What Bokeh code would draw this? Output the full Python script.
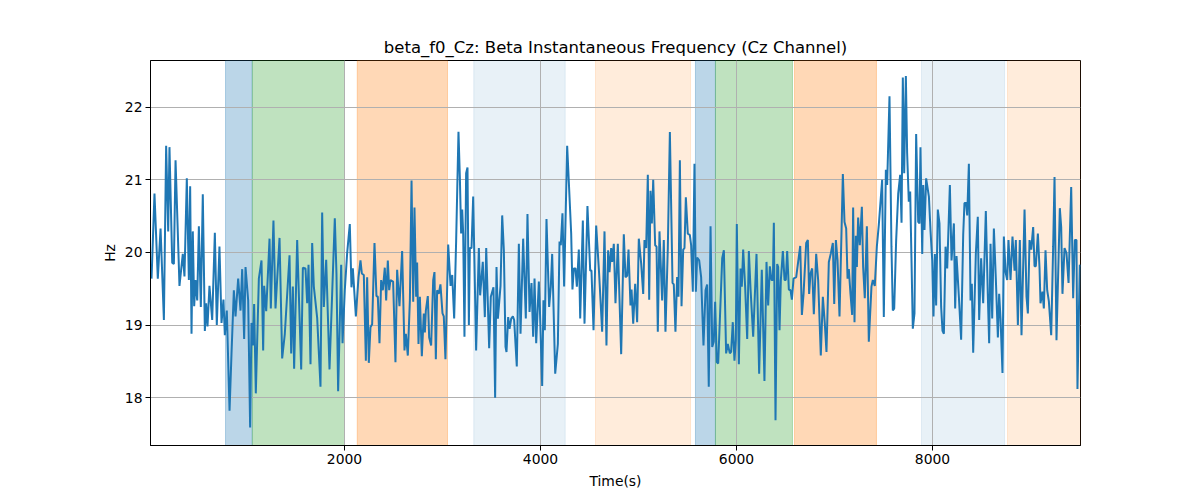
from bokeh.plotting import figure
from bokeh.models import Range1d, BoxAnnotation, FixedTicker
from bokeh.embed import file_html
from bokeh.resources import INLINE

# beta_f0 on the Cz channel, time in seconds
time_s = [
    31, 61, 95, 123, 157, 180, 201, 214, 242, 259, 276, 316, 350, 367, 391, 412, 425, 439, 452, 466,
    480, 497, 514, 534, 554, 575, 588, 602, 622, 650, 677, 697, 724, 745, 765, 779, 799, 827, 847, 871,
    888, 915, 939, 956, 976, 990, 1017, 1037, 1051, 1065, 1078, 1095, 1126, 1153, 1170, 1180, 1201, 1235,
    1248, 1275, 1296, 1337, 1364, 1391, 1439, 1456, 1473, 1486, 1517, 1558, 1575, 1602,
    1619, 1633, 1653, 1670, 1687, 1721, 1755, 1772, 1789, 1813, 1847, 1874, 1901, 1918, 1935, 1966,
    1980, 2003, 2027, 2054, 2071, 2085, 2116, 2143, 2163, 2177, 2197, 2218, 2231, 2248, 2265, 2282,
    2306, 2326, 2340, 2357, 2374, 2391, 2411, 2425, 2442, 2456, 2469, 2496, 2520, 2537, 2561, 2588,
    2612, 2626, 2646, 2667, 2684, 2701, 2714, 2731, 2741, 2755, 2769, 2789, 2809, 2820, 2830, 2850,
    2864, 2884, 2905, 2918, 2932, 2945, 2962, 2979, 3000, 3013, 3030, 3058, 3082, 3099, 3119, 3139,
    3163, 3177, 3190, 3201, 3211, 3224, 3241, 3255, 3269, 3279, 3296, 3313, 3343, 3371, 3384, 3411,
    3432, 3446, 3476, 3493, 3520, 3537, 3551, 3565, 3592, 3609, 3626, 3643, 3653, 3670, 3684, 3701,
    3718, 3731, 3758, 3779, 3796, 3823, 3850, 3867, 3888, 3908, 3925, 3939, 3956, 3983, 3993, 4017,
    4030, 4044, 4061, 4088, 4105, 4119, 4150, 4177, 4194, 4207, 4224, 4241, 4272, 4289, 4313, 4326,
    4340, 4357, 4371, 4391, 4405, 4432, 4449, 4479, 4507, 4520, 4541, 4568, 4598, 4629, 4653, 4673,
    4690, 4704, 4721, 4731, 4748, 4765, 4789, 4823, 4850, 4867, 4884, 4898, 4918, 4929, 4946, 4966,
    4986, 5003, 5027, 5048, 5061, 5078, 5095, 5109, 5122, 5136, 5150, 5170, 5184, 5197, 5214, 5241,
    5258, 5275, 5299, 5320, 5347, 5360, 5377, 5394, 5408, 5422, 5439, 5456, 5469, 5483, 5503, 5524,
    5537, 5554, 5571, 5585, 5598, 5619, 5639, 5663, 5684, 5700, 5717, 5735, 5752, 5768, 5782, 5799,
    5813, 5830, 5854, 5871, 5894, 5911, 5932, 5945, 5962, 5979, 5993, 6003, 6024, 6041, 6054, 6068,
    6088, 6109, 6126, 6143, 6170, 6204, 6231, 6258, 6285, 6306, 6323, 6340,
    6357, 6371, 6381, 6398, 6415, 6425, 6439, 6452, 6473, 6490, 6503, 6517, 6534, 6551, 6565, 6582,
    6609, 6629, 6650, 6667, 6684, 6711, 6728, 6741, 6755, 6772, 6789, 6813, 6833, 6860, 6881, 6901,
    6918, 6942, 6963, 6983, 6997, 7014, 7031, 7051, 7071, 7085, 7102, 7119, 7133, 7146, 7163, 7180,
    7190, 7204, 7218, 7228, 7241, 7258, 7279, 7292, 7309, 7330, 7350, 7377, 7391, 7411, 7432, 7452,
    7486, 7503, 7524, 7537, 7561, 7581, 7595, 7609, 7629, 7650, 7670, 7684, 7697, 7711, 7728, 7741,
    7758, 7772, 7799, 7816, 7833, 7854, 7867, 7877, 7895, 7905, 7918,
    7935, 7963, 7980, 7997, 8010, 8024, 8037, 8054, 8071, 8088, 8102, 8116, 8133, 8150, 8177, 8194,
    8218, 8231, 8245, 8269, 8292, 8313, 8326, 8343, 8354, 8371, 8388, 8401, 8415, 8442, 8462, 8476,
    8496, 8517, 8544, 8564, 8578, 8592, 8609, 8626, 8646, 8667, 8680, 8694, 8714, 8728, 8745, 8762,
    8775, 8796, 8816, 8837, 8850, 8871, 8891, 8908, 8939, 8959, 8973, 8990, 9007, 9027, 9041, 9054,
    9075, 9092, 9102, 9122, 9136, 9153, 9170, 9187, 9211, 9231, 9245, 9265, 9299, 9313, 9326, 9347,
    9367, 9388, 9415, 9435, 9452, 9469, 9479, 9503, 9510,
]
beta_f0_hz = [
    19.64, 20.81, 19.64, 20.33, 19.07, 21.47, 20.29, 21.45, 19.86, 19.84, 21.27, 19.54, 19.98, 19.67, 21.02, 19.62, 20.91, 18.88, 20.29, 19.26,
    19.62, 19.34, 20.36, 19.25, 20.80, 18.92, 19.30, 18.98, 19.54, 19.07, 20.27, 19.00, 20.08, 19.03, 19.35, 18.86, 19.20, 17.82, 18.61, 19.48,
    19.12, 19.64, 19.20, 19.77, 18.81, 19.80, 19.34, 17.59, 19.03, 18.72, 19.29, 18.06, 19.64, 19.89, 18.65, 19.54, 19.19, 20.19,
    19.23, 20.44, 19.23, 20.20, 18.54, 18.88, 19.96, 18.61, 19.53, 18.40, 20.17, 18.39, 19.79, 19.78,
    19.30, 19.83, 18.46, 20.13, 19.53, 19.10, 18.15, 20.55, 19.25, 19.90, 18.39, 19.43, 20.47, 19.71, 18.09, 19.83,
    18.75, 19.48, 19.99, 20.39, 19.52, 19.78, 19.12, 19.66, 19.89, 19.71, 19.69, 18.51, 19.66, 18.48, 18.97, 19.01,
    20.13, 19.40, 19.39, 18.75, 19.62, 19.48, 19.79, 19.34, 19.89, 19.48, 19.62, 19.60, 18.49, 19.76, 19.26, 20.02,
    18.65, 18.88, 18.58, 19.34, 20.99, 19.32, 20.62, 19.39, 19.86, 18.74, 19.39, 18.57, 19.16, 18.90, 19.20, 19.40,
    18.83, 18.72, 19.62, 19.73, 18.53, 19.48, 19.43, 19.56, 19.16, 19.12, 18.53, 20.11, 19.54, 19.69, 19.09, 20.15,
    21.66, 21.04, 20.26, 20.59, 20.26, 18.84, 21.09, 21.17, 19.00, 20.06, 20.06, 20.77, 18.65, 20.06, 19.41, 19.87,
    19.11, 20.06, 18.68, 19.39, 19.52, 18.00, 19.80, 19.09, 19.54, 20.51, 20.03, 18.70, 18.63, 19.11, 18.95, 19.09,
    19.12, 19.07, 18.43, 20.12, 18.88, 20.19, 19.09, 20.53, 19.18, 19.58, 18.84, 19.64, 18.75, 19.60, 19.25, 18.16,
    19.34, 18.93, 20.46, 19.25, 19.53, 19.98, 18.33, 18.74, 20.15, 20.10, 20.54, 19.53, 21.47, 20.97, 20.26, 19.49,
    19.78, 19.78, 19.53, 20.04, 19.09, 20.44, 19.02, 20.64, 19.75, 19.75, 18.93, 20.37, 19.71, 18.91, 20.29, 18.72,
    20.03, 19.73, 20.06, 19.87, 20.12, 19.30, 20.12, 18.60, 20.25, 19.66, 19.68, 20.04, 19.27, 19.49, 19.02, 19.57,
    19.04, 20.19, 19.85, 19.43, 20.17, 20.06, 21.07, 19.35, 20.85, 20.40, 21.00, 20.10, 20.08, 18.91, 20.29, 19.34,
    20.17, 18.91, 20.06, 21.66, 19.58, 19.56, 18.91, 19.66, 19.39, 21.27, 19.26, 20.04, 20.06, 20.76, 20.26, 20.24,
    20.10, 19.46, 21.22, 19.46, 19.93, 19.89, 19.66, 18.72, 19.48, 19.56, 18.15, 20.36, 18.70, 18.77, 19.32, 18.49,
    18.47, 19.07, 19.92, 20.03, 18.61, 18.74, 18.61, 18.63, 19.04, 18.51, 18.80, 20.39, 18.46, 19.78, 19.53, 20.04,
    19.53, 18.81, 20.02, 19.50, 18.84, 19.98, 18.33, 19.76, 18.23, 19.87, 19.27, 19.81,
    19.62, 19.62, 20.41, 17.69, 19.84, 19.80, 18.93, 19.61, 20.02, 19.62, 19.62, 20.02, 19.49, 19.48, 19.35, 19.64,
    19.66, 19.87, 20.09, 19.14, 19.43, 20.13, 20.17, 19.43, 19.71, 19.78, 19.15, 19.98, 19.62, 18.58, 19.39, 19.02,
    18.63, 19.87, 19.99, 20.13, 19.29, 20.17, 19.89, 19.12, 20.26, 21.08, 20.42, 20.33, 19.64, 19.77, 19.43, 19.14,
    20.62, 19.04, 20.23, 19.80, 20.48, 20.10, 20.63, 19.80, 19.37, 20.36, 18.77, 19.53, 19.62, 19.54, 20.08, 20.38,
    21.00, 19.11, 21.14, 20.93, 22.15, 20.08, 19.20, 19.23, 20.17, 20.81, 21.07, 20.41, 22.41, 21.09, 22.43, 21.37,
    20.70, 20.84, 18.95, 19.16, 21.63, 20.42, 20.40, 21.45, 19.98, 20.93, 20.31,
    21.02, 20.77, 20.29, 19.89, 19.12, 19.98, 19.27, 20.59, 20.40, 19.25, 18.92, 18.88, 20.08, 19.78, 20.93, 19.89,
    20.40, 19.23, 19.95, 19.39, 18.80, 20.24, 20.68, 20.68, 20.51, 21.22, 19.34, 19.57, 18.62, 19.98, 20.49, 19.07,
    19.92, 19.30, 20.57, 19.43, 18.75, 20.12, 19.09, 20.33, 19.64, 18.83, 19.43, 19.09, 18.34, 20.22, 19.73, 19.62,
    20.17, 19.62, 20.22, 19.75, 20.17, 19.00, 20.17, 18.86, 20.59, 19.39, 19.16, 20.17, 20.04, 20.35, 19.81, 19.81,
    20.26, 19.78, 19.30, 19.46, 19.23, 20.03, 19.48, 19.33, 18.86, 20.08, 21.04, 18.79, 20.61, 20.35, 19.43, 20.06,
    19.99, 19.58, 20.90, 19.37, 20.17, 20.17, 18.12, 19.83, 19.80,
]

# shaded stage intervals (start, end, colour, alpha)
span_start = [786, 1060, 2130, 3319, 4561, 5581, 5785, 6592, 7888, 8765]
span_end = [1058, 2000, 3051, 4252, 5531, 5785, 6571, 7428, 8735, 9510]
span_color = ["#1f77b4", "#2ca02c", "#ff7f0e", "#1f77b4", "#ff7f0e",
              "#1f77b4", "#2ca02c", "#ff7f0e", "#1f77b4", "#ff7f0e"]
span_alpha = [0.3, 0.3, 0.3, 0.1, 0.15, 0.3, 0.3, 0.3, 0.1, 0.15]

FONT = "DejaVu Sans"

p = figure(width=1192, height=492, output_backend="svg", toolbar_location=None,
           x_range=Range1d(20.4, 9510), y_range=Range1d(17.342, 22.643),
           min_border_left=150, min_border_right=112, min_border_top=60, min_border_bottom=47)

p.title.text = "beta_f0_Cz: Beta Instantaneous Frequency (Cz Channel)"
p.title.text_font = FONT
p.title.text_font_size = "16.5px"
p.title.text_font_style = "normal"
p.title.text_color = "black"
p.title.align = "center"
p.title.standoff = 8

for s, e, c, a in zip(span_start, span_end, span_color, span_alpha):
    p.add_layout(BoxAnnotation(left=s, right=e, fill_color=c, fill_alpha=a,
                               line_color=c, line_alpha=a, line_width=1, level="image"))

p.line(time_s, beta_f0_hz, line_color="#1f77b4", line_width=2)

p.xaxis.ticker = FixedTicker(ticks=[2000, 4000, 6000, 8000])
p.yaxis.ticker = FixedTicker(ticks=[18, 19, 20, 21, 22])
p.xaxis.axis_label = "Time(s)"
p.yaxis.axis_label = "Hz"

for ax in (p.xaxis, p.yaxis):
    ax.axis_label_text_font = FONT
    ax.axis_label_text_font_size = "13.9px"
    ax.axis_label_text_font_style = "normal"
    ax.axis_label_text_color = "black"
    ax.major_label_text_font = FONT
    ax.major_label_text_font_size = "13.9px"
    ax.major_label_text_color = "black"
    ax.axis_line_color = "black"
    ax.major_tick_line_color = "black"
    ax.major_tick_out = 5
    ax.major_tick_in = 0
    ax.minor_tick_line_color = None
    ax.major_label_standoff = 3
p.xaxis.axis_label_standoff = 6
p.yaxis.axis_label_standoff = 4

p.grid.grid_line_color = "#b0b0b0"
p.grid.grid_line_width = 1
p.outline_line_color = "black"
p.outline_line_alpha = 1
p.outline_line_width = 1

open("out.html", "w").write(file_html(p, INLINE))
